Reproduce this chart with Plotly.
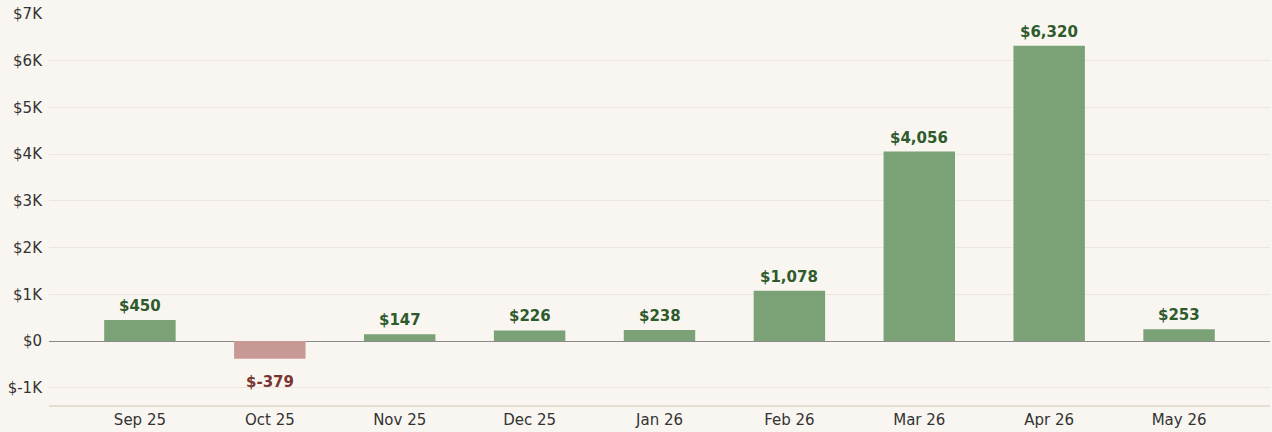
import plotly.graph_objects as go

months = ["Sep 25", "Oct 25", "Nov 25", "Dec 25", "Jan 26", "Feb 26", "Mar 26", "Apr 26", "May 26"]
values = [450, -379, 147, 226, 238, 1078, 4056, 6320, 253]
tick_vals = [-1000, 0, 1000, 2000, 3000, 4000, 5000, 6000, 7000]
tick_text = ["$-1K", "$0", "$1K", "$2K", "$3K", "$4K", "$5K", "$6K", "$7K"]

pos_color, neg_color = "#7ba276", "#c89994"
pos_text, neg_text = "#2e5a2c", "#7a3530"

colors = [pos_color if v >= 0 else neg_color for v in values]
labels = [f"${v:,}" for v in values]

fig = go.Figure(go.Bar(
    x=months, y=values, marker=dict(color=colors, line=dict(width=0)),
    width=0.55, hoverinfo="x+y",
))
for m, v, t in zip(months, values, labels):
    pos = v >= 0
    fig.add_annotation(
        x=m, y=v, text=f"<b>{t}</b>", showarrow=False,
        yanchor="bottom" if pos else "top", yshift=3 if pos else -12,
        font=dict(family="DejaVu Sans", size=15, color=pos_text if pos else neg_text),
    )
fig.update_layout(
    width=1272, height=432, margin=dict(l=49, r=2, t=14, b=27),
    paper_bgcolor="#f9f6f1", plot_bgcolor="#f9f6f1",
    font=dict(family="DejaVu Sans", size=15, color="#333333"),
    showlegend=False,
)
fig.update_yaxes(range=[-1370, 7000], tickvals=tick_vals, ticktext=tick_text,
                 gridcolor="#ebe6df", gridwidth=1, zeroline=True, zerolinecolor="#8a8a8a",
                 zerolinewidth=1, showline=False, ticks="", ticklabelstandoff=6,
                 tickfont=dict(size=15))
fig.update_xaxes(range=[-0.7, 8.7], showline=True, linecolor="#e3ddd2", linewidth=2,
                 ticks="", showgrid=False, tickfont=dict(size=15))
fig.write_html("out.html")
